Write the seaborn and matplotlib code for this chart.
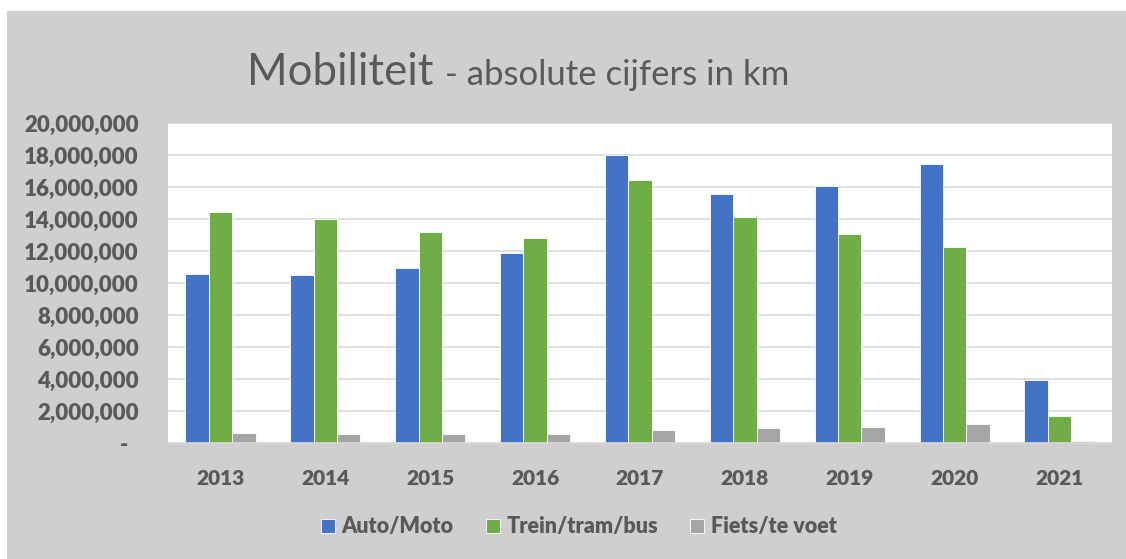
import numpy as np
import pandas as pd
import matplotlib
matplotlib.use("Agg")
import matplotlib.pyplot as plt
import seaborn as sns
from matplotlib.patches import Rectangle
from matplotlib.ticker import FuncFormatter

years = ["2013", "2014", "2015", "2016", "2017", "2018", "2019", "2020", "2021"]
auto_moto = [10.59, 10.49, 10.92, 11.88, 18.02, 15.58, 16.06, 17.42, 3.92]
trein_tram_bus = [14.44, 14.00, 13.19, 12.79, 16.45, 14.11, 13.07, 12.22, 1.66]
fiets_te_voet = [0.62, 0.58, 0.58, 0.58, 0.82, 0.93, 1.01, 1.17, 0.11]
series = ["Auto/Moto", "Trein/tram/bus", "Fiets/te voet"]
colors = ["#4472C4", "#70AD47", "#A5A5A5"]

rows = []
for name, vals in zip(series, [auto_moto, trein_tram_bus, fiets_te_voet]):
    for y, v in zip(years, vals):
        rows.append({"jaar": y, "reeks": name, "km": v * 1e6})
df = pd.DataFrame(rows)

sns.set_theme(style="white")
plt.rcParams["font.family"] = ["Lato", "DejaVu Sans"]
text_col = "#595959"
bg = "#D0CECE"

W, H = 1126, 559
fig = plt.figure(figsize=(W / 100, H / 100), dpi=100)
fig.patch.set_facecolor("white")
fig.patches.append(Rectangle((7 / W, 0), 1 - 7 / W, 1 - 11 / H, transform=fig.transFigure,
                             facecolor=bg, edgecolor="none", zorder=-10))

ax = fig.add_axes([168 / W, 1 - 443 / H, (1112 - 168) / W, (443 - 123) / H])
ax.set_facecolor("white")
sns.barplot(data=df, x="jaar", y="km", hue="reeks", palette=colors, width=0.67,
            saturation=1, edgecolor="#FFFFFF", linewidth=0.6, ax=ax, legend=True)

ax.set_ylim(0, 20e6)
ax.set_yticks(np.arange(0, 20e6 + 1, 2e6))
ax.yaxis.set_major_formatter(FuncFormatter(lambda v, p: "-  " if v == 0 else f"{v:,.0f}"))
ax.grid(axis="y", color="#D9D9D9", linewidth=1.2)
ax.set_axisbelow(True)
for s in ["left", "top", "right"]:
    ax.spines[s].set_visible(False)
ax.spines["bottom"].set_color("#D9D9D9")
ax.spines["bottom"].set_linewidth(1.2)
ax.tick_params(axis="y", length=0, pad=21, labelsize=16, labelcolor=text_col)
ax.tick_params(axis="x", length=0, pad=19, labelsize=15, labelcolor=text_col)
plt.setp(ax.get_xticklabels() + ax.get_yticklabels(), fontweight="heavy")
ax.set_xlabel("")
ax.set_ylabel("")

handles, labels = ax.get_legend_handles_labels()
ax.get_legend().remove()
leg = fig.legend(handles, labels, loc="center", bbox_to_anchor=(579 / W, 1 - 527 / H),
                 ncol=3, frameon=False, handlelength=0.65, handleheight=0.65,
                 handletextpad=0.3, columnspacing=1.5,
                 prop={"size": 15.5, "weight": "heavy"})
for t in leg.get_texts():
    t.set_color(text_col)

fig.text(247 / W, 1 - 85 / H, "Mobiliteit", fontsize=31.5, fontweight="normal",
         color=text_col, va="baseline", ha="left")
fig.text(445 / W, 1 - 85 / H, "- absolute cijfers in km", fontsize=25, fontweight="normal",
         color=text_col, va="baseline", ha="left")

fig.savefig("out.png", dpi=100)
